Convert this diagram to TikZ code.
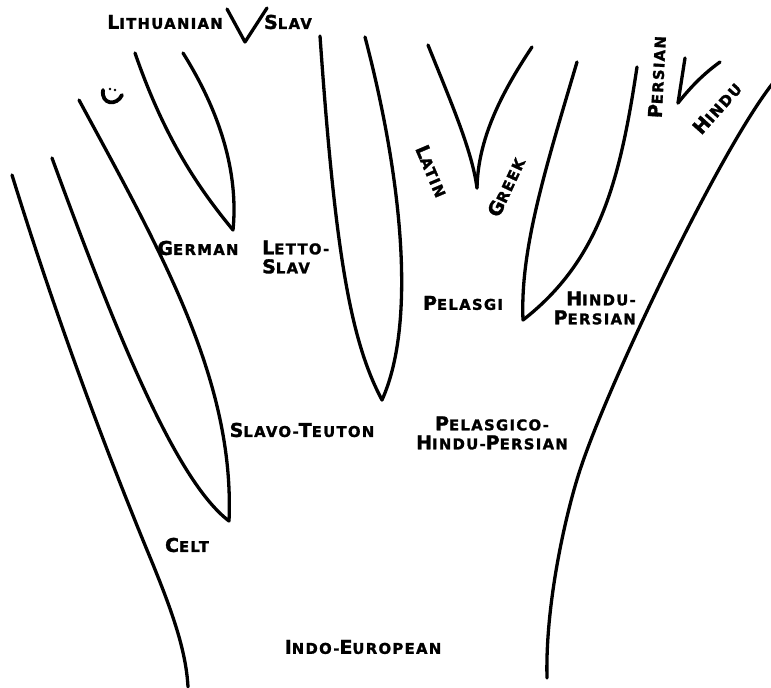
\documentclass[tikz,border=0pt]{standalone}
\usepackage{fontspec}
\newfontfamily\lblfont[LetterSpace=9,BoldFeatures={FakeBold=1.6}]{DejaVu Sans}
\newcommand\Cp[1]{{\fontsize{19}{19}\selectfont #1}}
\begin{document}
\begin{tikzpicture}[x=1pt,y=-1pt,
  branch/.style={line width=3.3pt,line cap=round,line join=round},
  lbl/.style={inner sep=0pt,font=\lblfont\bfseries\fontsize{14.8}{19}\selectfont}]
\useasboundingbox (0,0) rectangle (771,688);
% tips
\coordinate (lsTip) at (245,42);
\coordinate (gerTip) at (233,230);
\coordinate (stTip) at (229,521);
\coordinate (lettoTip) at (382,400);
\coordinate (lgTip) at (477,188);
\coordinate (hpTip) at (523,320);
\coordinate (phTip) at (678,103);
% left trunk (Celt)
\draw[branch] (12,175) .. controls (60,330) and (110,460) .. (147,550)
  .. controls (172,610) and (186,650) .. (188,687);
% Slavo-Teuton V
\draw[branch] (52,158) .. controls (115,330) and (175,480) .. (stTip);
\draw[branch] (79,100) .. controls (160,250) and (235,380) .. (stTip);
% German V
\draw[branch] (135,53) .. controls (165,140) and (200,190) .. (gerTip);
\draw[branch] (183,53) .. controls (225,120) and (238,180) .. (gerTip);
% Lithuanian / Slav V
\draw[branch] (227,9) -- (lsTip) -- (267,8);
% Letto-Slav V
\draw[branch] (320,36) .. controls (335,250) and (350,340) .. (lettoTip);
\draw[branch] (365,37) .. controls (400,170) and (418,320) .. (lettoTip);
% Latin / Greek V
\draw[branch] (428,45) .. controls (450,100) and (472,150) .. (lgTip);
\draw[branch] (532,47) .. controls (500,95) and (478,140) .. (lgTip);
% Pelasgi / Hindu-Persian V
\draw[branch] (577,62) .. controls (545,170) and (520,250) .. (hpTip);
\draw[branch] (637,67) .. controls (620,180) and (600,260) .. (hpTip);
% Persian / Hindu V
\draw[branch] (685,58) -- (phTip);
\draw[branch] (720,62) .. controls (702,75) and (690,88) .. (phTip);
% right trunk
\draw[branch] (773,83) .. controls (720,150) and (610,380) .. (581,467)
  .. controls (568,505) and (545,600) .. (547,678);
% small mark
\draw[line width=3.8pt,line cap=round] (103,90) .. controls (101,105) and (117,106) .. (122,95);
\fill (110,89) circle (1.4);
\fill (115,90) circle (1.4);
% labels
\node[lbl] (lith) at (165,22) {\Cp{L}ITHUANIAN};
\node[lbl] (slav) at (288,22) {\Cp{S}LAV};
\node[lbl] (german) at (198,248) {\Cp{G}ERMAN};
\node[lbl,anchor=west,align=left] (letto) at (262,257) {\Cp{L}ETTO-\\\Cp{S}LAV};
\node[lbl,rotate=-67] (latin) at (432,171) {\Cp{L}ATIN};
\node[lbl,rotate=65] (greek) at (506,187) {\Cp{G}REEK};
\node[lbl,rotate=87] (persian) at (657,77) {\Cp{P}ERSIAN};
\node[lbl,rotate=48] (hindu) at (717,108) {\Cp{H}INDU};
\node[lbl] (pelasgi) at (463,303) {\Cp{P}ELASGI};
\node[lbl,anchor=east,align=right] (hindupers) at (636,308) {\Cp{H}INDU-\\\Cp{P}ERSIAN};
\node[lbl] (slavoteuton) at (302,430) {\Cp{S}LAVO-\Cp{T}EUTON};
\node[lbl,align=center] (pelhp) at (492,433) {\Cp{P}ELASGICO-\\\Cp{H}INDU-\Cp{P}ERSIAN};
\node[lbl] (celt) at (187,545) {\Cp{C}ELT};
\node[lbl] (indoeur) at (363,647) {\Cp{I}NDO-\Cp{E}UROPEAN};
\end{tikzpicture}
\end{document}
